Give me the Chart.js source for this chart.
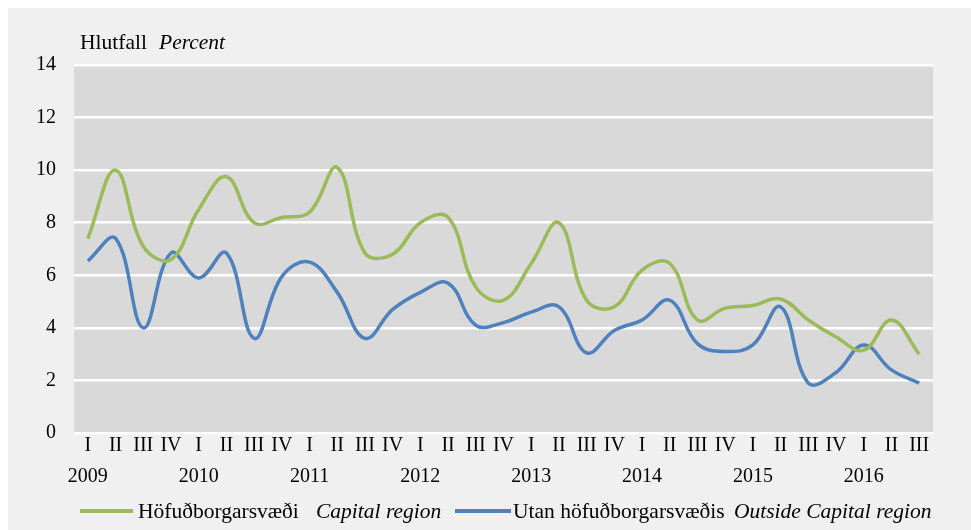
<!DOCTYPE html>
<html>
<head>
<meta charset="utf-8">
<script src="https://cdn.jsdelivr.net/npm/chart.js@4/dist/chart.umd.min.js"></script>
<style>
  body { margin: 0; background: #fff; font-family: "Liberation Serif", "Times New Roman", serif; }
  .wrap { position: relative; width: 971px; height: 530px; }
  .bg { position: absolute; left: 8px; top: 8px; right: 0; bottom: 0; background: #f0f0f0; }
  canvas { position: absolute; left: 0; top: 0; }
  .txt { position: absolute; font-size: 21.5px; line-height: 26px; color: #000; white-space: nowrap; }
  .sw { position: absolute; height: 4px; }
  i { font-style: italic; }
</style>
</head>
<body>
<div class="wrap">
  <div class="bg"></div>
  <canvas id="chart" width="971" height="530"></canvas>
  <div class="txt" style="left:80px;top:29px">Hlutfall</div>
  <div class="txt" style="left:159px;top:29px"><i>Percent</i></div>

  <div class="sw" style="left:80px;top:509px;width:53px;background:#9bbb59"></div>
  <div class="txt" style="left:138px;top:498px">Höfuðborgarsvæði</div>
  <div class="txt" style="left:316px;top:498px"><i>Capital region</i></div>
  <div class="sw" style="left:455px;top:509px;width:56px;background:#4f81bd"></div>
  <div class="txt" style="left:513px;top:498px">Utan höfuðborgarsvæðis</div>
  <div class="txt" style="left:734px;top:498px"><i>Outside Capital region</i></div>
</div>
<script>
// ársfjórðungar 2009 I - 2016 III
const quarters = ['I', 'II', 'III', 'IV'];
const years = ['2009', '2010', '2011', '2012', '2013', '2014', '2015', '2016'];
const nPoints = 31;

const capitalRegion = [7.4, 10.0, 7.1, 6.6, 8.5, 9.75, 8.0, 8.2, 8.4, 10.1, 6.85, 6.8, 8.0, 8.2, 5.55, 5.05,
  6.45, 8.0, 5.05, 4.8, 6.2, 6.45, 4.3, 4.75, 4.85, 5.1, 4.3, 3.65, 3.15, 4.3, 3.0];
const outsideRegion = [6.55, 7.4, 4.0, 6.85, 5.9, 6.85, 3.6, 5.95, 6.5, 5.35, 3.6, 4.7, 5.35, 5.7, 4.1, 4.2,
  4.6, 4.8, 3.05, 3.9, 4.3, 5.05, 3.4, 3.1, 3.35, 4.8, 1.9, 2.3, 3.35, 2.4, 1.9];

const labels = [];
for (let i = 0; i < nPoints; i++) {
  const q = quarters[i % 4];
  labels.push(i % 4 === 0 ? [q, years[i / 4]] : [q, '']);
}

const plotBg = {
  id: 'plotBg',
  beforeDraw(chart) {
    const a = chart.chartArea;
    const ctx = chart.ctx;
    ctx.save();
    ctx.fillStyle = '#d9d9d9';
    ctx.fillRect(a.left, a.top, a.right - a.left, a.bottom - a.top);
    ctx.restore();
  }
};

const tickFont = { family: "'Liberation Serif', 'Times New Roman', serif", size: 20 };

new Chart(document.getElementById('chart'), {
  type: 'line',
  data: {
    labels: labels,
    datasets: [
      {
        label: 'Höfuðborgarsvæði Capital region',
        data: capitalRegion,
        borderColor: '#9bbb59',
        borderWidth: 3.5,
        pointRadius: 0,
        tension: 0.4,
        fill: false
      },
      {
        label: 'Utan höfuðborgarsvæðis Outside Capital region',
        data: outsideRegion,
        borderColor: '#4f81bd',
        borderWidth: 3.5,
        pointRadius: 0,
        tension: 0.4,
        fill: false
      }
    ]
  },
  options: {
    responsive: false,
    animation: false,
    layout: { padding: { top: 65, right: 38, left: 0, bottom: 0 } },
    plugins: {
      legend: { display: false },
      tooltip: { enabled: false }
    },
    scales: {
      x: {
        offset: true,
        grid: { display: false, drawTicks: false },
        border: { display: false },
        ticks: {
          color: '#000',
          font: Object.assign({ lineHeight: 1.55 }, tickFont),
          maxRotation: 0,
          autoSkip: false,
          padding: -3
        },
        afterFit(scale) { scale.height = 97; }
      },
      y: {
        min: 0,
        max: 14,
        grid: { color: '#ffffff', lineWidth: 2.5, drawTicks: false },
        border: { display: false },
        ticks: {
          stepSize: 2,
          color: '#000',
          font: tickFont,
          padding: 18
        },
        afterFit(scale) { scale.width = 74; }
      }
    }
  },
  plugins: [plotBg]
});
</script>
</body>
</html>
